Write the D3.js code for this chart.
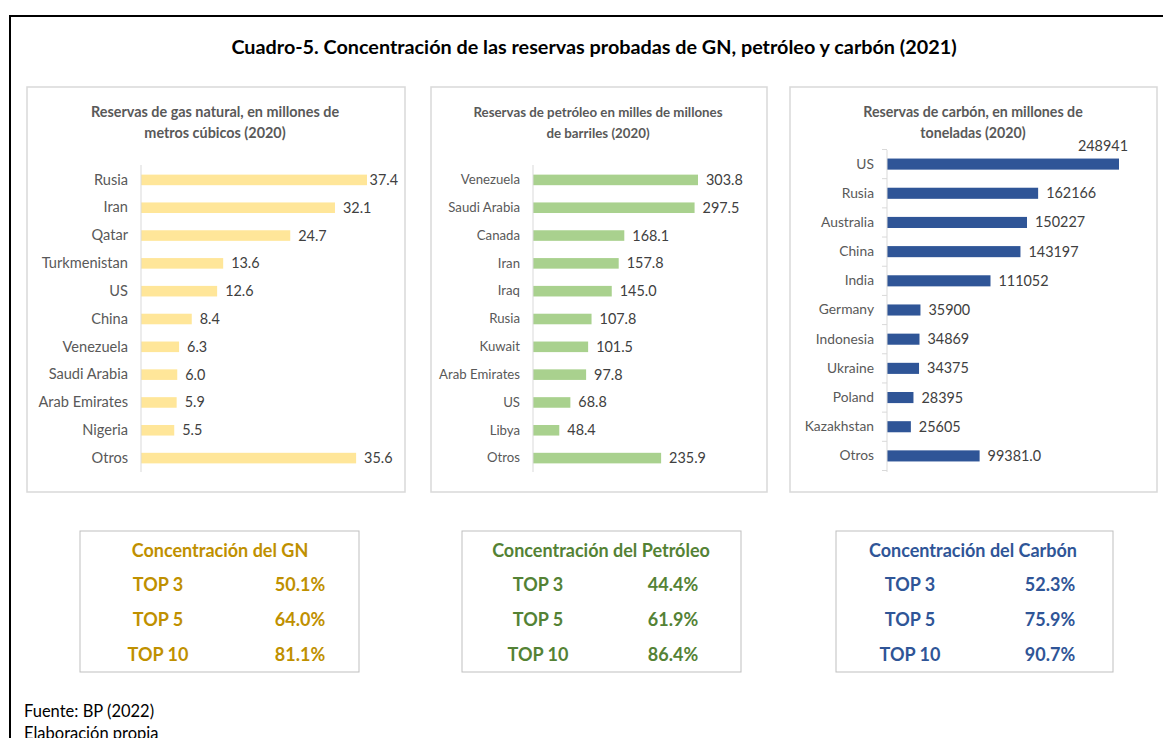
<!DOCTYPE html>
<html>
<head>
<meta charset="utf-8">
<script src="https://cdn.jsdelivr.net/npm/d3@7"></script>
<style>
    body { margin: 0; background: #fff; }
    svg { display: block; font-family: Lato, "Open Sans", sans-serif; }
</style>
</head>
<body>
<div id="chart"></div>
<script>
// Data
const gasCountries = ["Rusia", "Iran", "Qatar", "Turkmenistan", "US", "China", "Venezuela", "Saudi Arabia", "Arab Emirates", "Nigeria", "Otros"];
const gasValues = [37.4, 32.1, 24.7, 13.6, 12.6, 8.4, 6.3, 6.0, 5.9, 5.5, 35.6];

const oilCountries = ["Venezuela", "Saudi Arabia", "Canada", "Iran", "Iraq", "Rusia", "Kuwait", "Arab Emirates", "US", "Libya", "Otros"];
const oilValues = [303.8, 297.5, 168.1, 157.8, 145.0, 107.8, 101.5, 97.8, 68.8, 48.4, 235.9];

const coalCountries = ["US", "Rusia", "Australia", "China", "India", "Germany", "Indonesia", "Ukraine", "Poland", "Kazakhstan", "Otros"];
const coalValues = [248941, 162166, 150227, 143197, 111052, 35900, 34869, 34375, 28395, 25605, 99381.0];
const coalLabels = ["248941", "162166", "150227", "143197", "111052", "35900", "34869", "34375", "28395", "25605", "99381.0"];

const topLabels = ["TOP 3", "TOP 5", "TOP 10"];
const gasShares = ["50.1%", "64.0%", "81.1%"];
const oilShares = ["44.4%", "61.9%", "86.4%"];
const coalShares = ["52.3%", "75.9%", "90.7%"];

const W = 1163, H = 738;
const svg = d3.select("#chart").append("svg")
    .attr("width", W)
    .attr("height", H);

// outer frame (left + top only visible)
svg.append("path")
    .attr("d", `M10,${H} V16 H${W}`)
    .attr("fill", "none")
    .attr("stroke", "#000")
    .attr("stroke-width", 2);

svg.append("text")
    .attr("x", 594)
    .attr("y", 54)
    .attr("text-anchor", "middle")
    .attr("font-weight", "bold")
    .attr("font-size", "19.8px")
    .attr("fill", "#000")
    .text("Cuadro-5. Concentración de las reservas probadas de GN, petróleo y carbón (2021)");

const panels = [
    {
        box: [27, 87, 378, 405], title: ["Reservas de gas natural, en millones de", "metros cúbicos (2020)"],
        titleX: 215, titleSize: 14.4, labelSize: 14.6, axisX: 141, barW: 226, yRange: [166, 472], axisY: [165, 472],
        cats: gasCountries, vals: gasValues, labels: gasValues.map(d => d.toFixed(1)),
        color: "#FFE699", overflow: "clamp", ticks: false
    },
    {
        box: [431, 87, 336, 405], title: ["Reservas de petróleo en milles de millones", "de barriles (2020)"],
        titleX: 598, titleSize: 13.3, labelSize: 13.2, axisX: 533, barW: 165, yRange: [166, 472], axisY: [165, 472],
        cats: oilCountries, vals: oilValues, labels: oilValues.map(d => d.toFixed(1)),
        color: "#A9D18E", overflow: "clamp", ticks: false
    },
    {
        box: [790, 87, 367, 405], title: ["Reservas de carbón, en millones de", "toneladas (2020)"],
        titleX: 973, titleSize: 14.2, labelSize: 13.8, axisX: 887, barW: 232, yRange: [149.5, 470.5], axisY: [150, 472],
        cats: coalCountries, vals: coalValues, labels: coalLabels,
        color: "#2F5597", overflow: "above", ticks: true
    }
];

panels.forEach(p => {
    const g = svg.append("g");
    const [bx, by, bw, bh] = p.box;

    g.append("rect")
        .attr("x", bx).attr("y", by)
        .attr("width", bw).attr("height", bh)
        .attr("fill", "#fff")
        .attr("stroke", "#d9d9d9")
        .attr("stroke-width", 1.5);

    g.selectAll("text.ptitle")
        .data(p.title)
        .join("text")
        .attr("class", "ptitle")
        .attr("x", p.titleX)
        .attr("y", (d, i) => 117 + i * 21)
        .attr("text-anchor", "middle")
        .attr("font-weight", "bold")
        .attr("font-size", p.titleSize + "px")
        .attr("fill", "#595959")
        .text(d => d);

    const x = d3.scaleLinear()
        .domain([0, d3.max(p.vals)])
        .range([p.axisX, p.axisX + p.barW]);
    const y = d3.scaleBand()
        .domain(p.cats)
        .range(p.yRange)
        .paddingInner(0.62)
        .paddingOuter(0.31);

    // bars
    g.selectAll("rect.bar")
        .data(p.vals)
        .join("rect")
        .attr("class", "bar")
        .attr("x", x(0))
        .attr("y", (d, i) => y(p.cats[i]))
        .attr("width", d => x(d) - x(0))
        .attr("height", y.bandwidth())
        .attr("fill", p.color);

    // category axis
    const axis = d3.axisLeft(y).tickSize(0).tickPadding(13);
    const ag = g.append("g")
        .attr("transform", `translate(${p.axisX},0)`)
        .call(axis);
    ag.select(".domain").remove();
    ag.selectAll("text")
        .attr("font-family", "Lato, 'Open Sans', sans-serif")
        .attr("font-size", p.labelSize + "px")
        .attr("fill", "#595959");

    g.append("line")
        .attr("x1", p.axisX).attr("x2", p.axisX)
        .attr("y1", p.axisY[0]).attr("y2", p.axisY[1])
        .attr("stroke", "#d9d9d9")
        .attr("stroke-width", 1);

    if (p.ticks) {
        const step = y.step();
        const bounds = d3.range(p.cats.length + 1).map(i => p.yRange[0] + i * step);
        g.selectAll("line.tk")
            .data(bounds)
            .join("line")
            .attr("class", "tk")
            .attr("x1", p.axisX - 5).attr("x2", p.axisX)
            .attr("y1", d => d).attr("y2", d => d)
            .attr("stroke", "#d9d9d9");
    }

    // value labels
    const right = bx + bw - 7;
    g.selectAll("text.val")
        .data(p.vals)
        .join("text")
        .attr("class", "val")
        .attr("font-size", "14.4px")
        .attr("fill", "#404040")
        .text((d, i) => p.labels[i])
        .each(function(d, i) {
            const t = d3.select(this);
            const len = this.getComputedTextLength();
            let tx = x(d) + 8;
            let ty = y(p.cats[i]) + y.bandwidth() / 2 + 5;
            if (tx + len > right) {
                if (p.overflow === "above") {
                    tx = x(d) + 9 - len;
                    ty = y(p.cats[i]) - 8;
                } else {
                    tx = right - len;
                }
            }
            t.attr("x", tx).attr("y", ty);
        });
});

// concentration tables
const tables = [
    { box: [80, 531, 279, 141], title: "Concentración del GN", titleX: 220, colA: 158, colB: 300, vals: gasShares, color: "#BF9000" },
    { box: [462, 531, 279, 141], title: "Concentración del Petróleo", titleX: 601, colA: 538, colB: 673, vals: oilShares, color: "#548235" },
    { box: [836, 531, 277, 141], title: "Concentración del Carbón", titleX: 973, colA: 910, colB: 1050, vals: coalShares, color: "#2F5597" }
];

tables.forEach(t => {
    const g = svg.append("g");
    g.append("rect")
        .attr("x", t.box[0]).attr("y", t.box[1])
        .attr("width", t.box[2]).attr("height", t.box[3])
        .attr("fill", "#fff")
        .attr("stroke", "#bfbfbf")
        .attr("stroke-width", 1);

    g.append("text")
        .attr("x", t.titleX).attr("y", 557)
        .attr("text-anchor", "middle")
        .attr("font-weight", "bold")
        .attr("font-size", "18px")
        .attr("fill", t.color)
        .text(t.title);

    const rowY = d3.scalePoint().domain(topLabels).range([591, 661]);

    g.selectAll("text.top")
        .data(topLabels)
        .join("text")
        .attr("class", "top")
        .attr("x", t.colA)
        .attr("y", d => rowY(d))
        .attr("text-anchor", "middle")
        .attr("font-weight", "bold")
        .attr("font-size", "18px")
        .attr("fill", t.color)
        .text(d => d);

    g.selectAll("text.share")
        .data(t.vals)
        .join("text")
        .attr("class", "share")
        .attr("x", t.colB)
        .attr("y", (d, i) => rowY(topLabels[i]))
        .attr("text-anchor", "middle")
        .attr("font-weight", "bold")
        .attr("font-size", "18px")
        .attr("fill", t.color)
        .text(d => d);
});

// footer
svg.append("text")
    .attr("x", 24).attr("y", 717)
    .attr("font-size", "16.5px")
    .attr("fill", "#000")
    .text("Fuente: BP (2022)");
svg.append("text")
    .attr("x", 24).attr("y", 739)
    .attr("font-size", "16.5px")
    .attr("fill", "#000")
    .text("Elaboración propia");
</script>
</body>
</html>
